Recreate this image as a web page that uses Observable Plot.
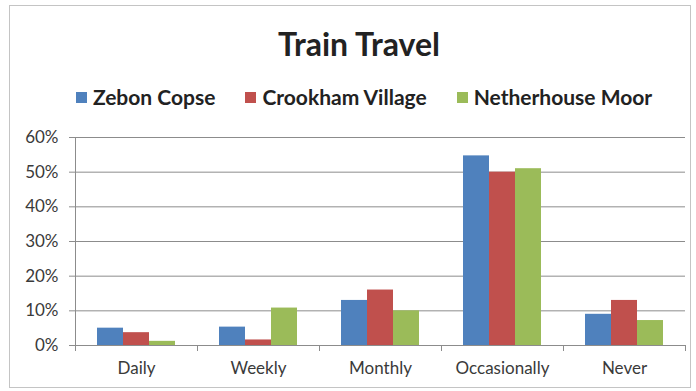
<!DOCTYPE html>
<html>
<head>
<meta charset="utf-8">
<script src="https://cdn.jsdelivr.net/npm/d3@7"></script>
<script src="https://cdn.jsdelivr.net/npm/@observablehq/plot@0.6"></script>
<style>
  html, body { margin: 0; padding: 0; background: #fff; }
  body { width: 696px; height: 391px; position: relative; overflow: hidden; font-family: Lato, "Open Sans", sans-serif; }
  #frame { position: absolute; left: 9px; top: 5px; width: 682px; height: 383px; box-sizing: border-box; border: 1px solid #c4c4c4; }
  #title { position: absolute; left: 0; top: 26px; width: 718px; text-align: center; font-size: 32px; line-height: 36px; font-weight: 700; color: #222; }
  #legend { position: absolute; left: 0; top: 85px; width: 728px; display: flex; justify-content: center; gap: 30px; font-size: 21px; line-height: 24px; font-weight: 700; color: #222; }
  #legend .item { display: flex; align-items: center; gap: 6px; }
  #legend .sw { width: 11px; height: 11px; display: inline-block; }
  #chart { position: absolute; left: 0; top: 110px; }
  #chart svg text { fill: #3a3a3a; }
</style>
</head>
<body>
<div id="frame"></div>
<div id="title">Train Travel</div>
<div id="legend"></div>
<div id="chart"></div>
<script>
const categories = ["Daily", "Weekly", "Monthly", "Occasionally", "Never"];
const series = ["Zebon Copse", "Crookham Village", "Netherhouse Moor"];
const zebonCopse = [0.050, 0.053, 0.130, 0.547, 0.090];
const crookhamVillage = [0.037, 0.016, 0.160, 0.500, 0.130];
const netherhouseMoor = [0.012, 0.108, 0.100, 0.510, 0.072];
const yTicks = [0, 0.1, 0.2, 0.3, 0.4, 0.5, 0.6];
const colors = ["#4F81BD", "#C0504D", "#9BBB59"];

const seriesValues = [zebonCopse, crookhamVillage, netherhouseMoor];
const data = categories.flatMap((cat, i) =>
  series.map((s, j) => ({cat, series: s, value: seriesValues[j][i]}))
);

// legend
const legend = document.getElementById("legend");
series.forEach((s, j) => {
  const item = document.createElement("div");
  item.className = "item";
  const sw = document.createElement("span");
  sw.className = "sw";
  sw.style.background = colors[j];
  const label = document.createElement("span");
  label.textContent = s;
  item.appendChild(sw);
  item.appendChild(label);
  legend.appendChild(item);
});

const chart = Plot.plot({
  width: 696,
  height: 281,
  marginLeft: 74,
  marginRight: 10,
  marginTop: 27,
  marginBottom: 46,
  style: {fontFamily: "Lato, 'Open Sans', sans-serif", fontSize: "17px", color: "#8c8c8c", background: "transparent", overflow: "visible"},
  facet: {data, x: "cat"},
  fx: {domain: categories, padding: 0, label: null, tickSize: 0, tickPadding: 16, axis: "bottom"},
  x: {domain: series, axis: null, paddingInner: 0, paddingOuter: 0.77},
  y: {domain: [0, 0.6], ticks: yTicks, tickFormat: d3.format(".0%"), label: null, tickSize: 6, tickPadding: 11, line: true},
  color: {domain: series, range: colors},
  marks: [
    Plot.ruleY(yTicks, {stroke: "#8c8c8c", strokeWidth: 1}),
    Plot.barY(data, {x: "series", y: "value", fill: "series"})
  ]
});
document.getElementById("chart").appendChild(chart);

// category boundary ticks below the baseline, placed with Plot's own scales
const fx = chart.scale("fx");
const y = chart.scale("y");
const y0 = y.apply(0);
const edges = categories.map(c => fx.apply(c)).concat([fx.apply(categories[categories.length - 1]) + fx.bandwidth]);
d3.select(chart).append("g")
  .attr("stroke", "#8c8c8c")
  .selectAll("line")
  .data(edges)
  .join("line")
  .attr("x1", d => d + 0.5)
  .attr("x2", d => d + 0.5)
  .attr("y1", y0)
  .attr("y2", y0 + 6);
</script>
</body>
</html>
